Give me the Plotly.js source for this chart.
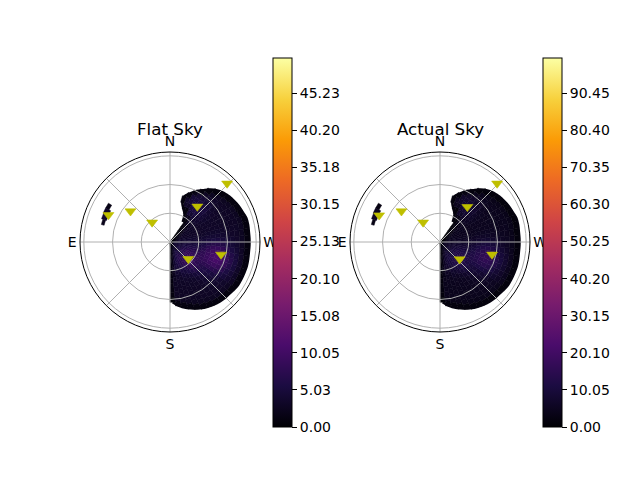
<!DOCTYPE html>
<html><head><meta charset="utf-8">
<script src="https://cdn.plot.ly/plotly-3.0.1.min.js"></script>
<style>html,body{margin:0;padding:0;background:#fff}</style>
</head><body><div id="chart" style="width:640px;height:480px"></div>
<script>
// ---- sky-brightness grid (azimuth bins, deg; radial cells of 5 units, aligned on the outer edge) ----
const binTheta = [182.5,187.5,192.5,197.5,202.5,207.5,212.5,217.5,222.5,227.5,232.5,237.5,242.5,247.5,252.5,257.5,262.5,267.5,272.5,277.5,282.5,287.5,292.5,297.5,302.5,307.5,312.5,317.5,322.5,327.5,332.5,337.5,342.5];
const binRIn  = [0,0,0,0,0,0,0,0,0,0,0,0,0,0,0,0,0,0,0,0,0,0,0,0,0,0,0,0,0,25,33,37,43];
const binROut = [63,67,70,72.5,75,77.5,79,80.5,81.5,82,83,84,84,84,84,83.5,83,83,83,83,83.5,83.5,82,81,79.5,78,76,73,69,64,60,55,50];
const flatVals = [
 [0.1,0.2,0.4,0.5,0.7,0.8,0.9,1.0,1.1,1.2,1.2,1.0,0.4],
 [0.2,0.6,1.1,1.7,2.2,2.5,2.5,2.7,2.9,3.0,3.0,2.8,1.2],
 [0.3,1.0,1.9,3.0,4.0,4.6,4.0,3.5,3.2,3.0,3.0,3.0,2.6,1.2],
 [0.4,1.5,2.9,4.6,5.5,5.2,4.5,3.8,3.3,3.1,3.0,3.0,3.0,2.6,1.1],
 [0.5,1.9,3.8,5.7,6.2,6.0,5.1,4.2,3.5,3.2,3.0,3.0,3.0,2.6,1.2],
 [0.6,2.3,4.8,6.2,6.9,6.8,5.9,4.8,3.8,3.3,3.1,3.0,3.0,3.0,2.6,1.1],
 [0.7,2.7,5.1,6.5,7.6,7.7,6.7,5.4,4.2,3.5,3.2,3.0,3.0,3.0,2.6,1.1],
 [0.8,3.1,5.3,6.9,8.2,8.4,7.4,5.9,4.6,3.8,3.4,3.2,3.1,3.0,2.6,1.1],
 [1.0,3.4,5.4,7.1,8.6,9.0,8.1,6.6,5.2,4.3,3.8,3.5,3.3,3.2,2.7,1.1],
 [1.0,3.8,5.4,7.2,8.8,9.3,8.4,7.1,5.9,5.1,4.6,4.1,3.7,3.4,2.8,1.1],
 [1.1,4.1,5.4,7.2,8.7,9.3,8.6,7.6,6.7,6.2,5.8,5.2,4.6,3.9,3.5,2.8,1.1],
 [1.2,4.0,5.3,7.0,8.5,9.0,8.6,7.9,7.6,7.7,7.4,6.8,5.8,4.8,3.9,3.0,1.1],
 [1.3,4.0,5.2,6.7,8.0,8.4,8.3,8.1,8.5,9.1,9.3,8.6,7.3,5.7,4.5,3.1,1.2],
 [1.3,4.0,5.0,6.3,7.3,7.7,7.8,8.1,9.0,10.1,10.6,10.0,8.5,6.6,5.0,3.2,1.2],
 [1.4,3.9,4.8,5.9,6.6,6.9,7.2,7.8,9.0,10.4,11.0,10.5,8.8,6.8,5.1,3.3,1.2],
 [1.4,3.8,4.6,5.4,5.9,6.2,6.4,7.1,8.5,9.8,10.3,9.8,8.3,6.4,4.9,3.2,1.2],
 [1.4,3.8,4.4,5.0,5.3,5.4,5.6,6.3,7.4,8.5,8.8,8.2,7.0,5.5,4.4,3.0,1.1],
 [1.4,3.7,4.1,4.6,4.7,4.7,4.9,5.4,6.2,6.8,7.0,6.4,5.5,4.6,3.8,2.8,1.1],
 [1.1,3.5,4.0,4.1,4.2,4.2,4.3,4.6,5.0,5.4,5.3,5.0,4.4,3.8,3.4,2.7,1.1],
 [1.0,3.1,3.8,3.8,3.9,3.8,3.9,4.0,4.3,4.4,4.2,4.0,3.6,3.4,3.2,2.6,1.0],
 [0.9,2.8,3.6,3.6,3.6,3.5,3.5,3.5,3.6,3.6,3.6,3.5,3.3,3.2,3.1,2.6,1.0],
 [0.8,2.4,3.5,3.4,3.3,3.3,3.3,3.3,3.4,3.3,3.3,3.2,3.1,3.0,3.0,2.6,1.0],
 [0.7,2.0,3.4,3.3,3.2,3.2,3.2,3.3,3.3,3.2,3.1,3.0,3.0,3.0,2.6,1.0],
 [0.6,1.7,3.1,3.1,3.1,3.1,3.2,3.3,3.3,3.3,3.2,3.1,3.0,3.0,2.6,1.0],
 [0.5,1.4,2.2,3.0,3.0,3.1,3.3,3.5,3.6,3.6,3.4,3.2,3.1,3.0,2.6,1.0],
 [0.4,1.0,1.7,2.4,3.1,3.2,3.5,3.9,4.2,4.2,3.9,3.5,3.2,3.0,2.6,1.0],
 [0.3,0.7,1.2,1.6,2.1,2.7,3.6,4.3,4.9,5.1,4.6,4.0,3.4,2.8,1.0],
 [0.1,0.4,0.6,0.9,1.4,2.6,3.8,4.6,5.5,5.8,5.3,4.4,3.6,2.7,1.0],
 [0.1,0.1,0.2,0.3,0.5,1.0,2.0,4.1,5.7,6.0,5.5,4.5,3.0,1.0],
 [0.5,2.5,4.6,5.4,5.6,5.2,4.3,1.2],
 [1.0,3.0,4.7,4.6,2.3],
 [1.0,3.3,3.6,1.2],
 [1.2]
];
const actualVals = [
 [0.2,0.3,0.6,0.8,1.1,1.2,1.4,1.5,1.7,1.8,1.8,1.5,0.6],
 [0.3,0.9,1.7,2.6,3.3,3.8,3.8,4.1,4.4,4.5,4.5,4.2,1.8],
 [0.5,1.5,2.9,4.5,6.0,6.9,6.0,5.3,4.8,4.5,4.5,4.5,3.9,1.8],
 [0.6,2.3,4.4,6.9,8.3,7.8,6.8,5.7,5.0,4.7,4.5,4.5,4.5,3.9,1.7],
 [0.8,2.9,5.7,8.6,9.3,9.0,7.7,6.3,5.3,4.8,4.5,4.5,4.5,3.9,1.8],
 [0.9,3.5,7.2,9.3,10.4,10.2,8.9,7.2,5.7,5.0,4.7,4.5,4.5,4.5,3.9,1.7],
 [1.1,4.1,7.7,9.8,11.4,11.6,10.1,8.1,6.3,5.3,4.8,4.5,4.5,4.5,3.9,1.7],
 [1.2,4.7,8.0,10.4,12.3,12.6,11.1,8.9,6.9,5.7,5.1,4.8,4.7,4.5,3.9,1.7],
 [1.5,5.1,8.1,10.7,12.9,13.5,12.2,9.9,7.8,6.5,5.7,5.3,5.0,4.8,4.1,1.7],
 [1.5,5.7,8.1,10.8,13.2,14.0,12.6,10.7,8.9,7.7,6.9,6.2,5.6,5.1,4.2,1.7],
 [1.7,6.2,8.1,10.8,13.1,14.0,12.9,11.4,10.1,9.3,8.7,7.8,6.9,5.9,5.3,4.2,1.7],
 [1.8,6.0,8.0,10.5,12.8,13.5,12.9,11.9,11.4,11.6,11.1,10.2,8.7,7.2,5.9,4.5,1.7],
 [2.0,6.0,7.8,10.1,12.0,12.6,12.5,12.2,12.8,13.7,14.0,12.9,11.0,8.6,6.8,4.7,1.8],
 [2.0,6.0,7.5,9.5,11.0,11.6,11.7,12.2,13.5,15.2,15.9,15.0,12.8,9.9,7.5,4.8,1.8],
 [2.1,5.9,7.2,8.9,9.9,10.4,10.8,11.7,13.5,15.6,16.5,15.8,13.2,10.2,7.7,5.0,1.8],
 [2.1,5.7,6.9,8.1,8.9,9.3,9.6,10.7,12.8,14.7,15.5,14.7,12.5,9.6,7.4,4.8,1.8],
 [2.1,5.7,6.6,7.5,8.0,8.1,8.4,9.5,11.1,12.8,13.2,12.3,10.5,8.3,6.6,4.5,1.7],
 [2.1,5.6,6.2,6.9,7.1,7.1,7.4,8.1,9.3,10.2,10.5,9.6,8.3,6.9,5.7,4.2,1.7],
 [1.7,5.3,6.0,6.2,6.3,6.3,6.5,6.9,7.5,8.1,8.0,7.5,6.6,5.7,5.1,4.1,1.7],
 [1.5,4.7,5.7,5.7,5.9,5.7,5.9,6.0,6.5,6.6,6.3,6.0,5.4,5.1,4.8,3.9,1.5],
 [1.4,4.2,5.4,5.4,5.4,5.3,5.3,5.3,5.4,5.4,5.4,5.3,5.0,4.8,4.7,3.9,1.5],
 [1.2,3.6,5.3,5.1,5.0,5.0,5.0,5.0,5.1,5.0,5.0,4.8,4.7,4.5,4.5,3.9,1.5],
 [1.1,3.0,5.1,5.0,4.8,4.8,4.8,5.0,5.0,4.8,4.7,4.5,4.5,4.5,3.9,1.5],
 [0.9,2.6,4.7,4.7,4.7,4.7,4.8,5.0,5.0,5.0,4.8,4.7,4.5,4.5,3.9,1.5],
 [0.8,2.1,3.3,4.5,4.5,4.7,5.0,5.3,5.4,5.4,5.1,4.8,4.7,4.5,3.9,1.5],
 [0.6,1.5,2.6,3.6,4.7,4.8,5.3,5.9,6.3,6.3,5.9,5.3,4.8,4.5,3.9,1.5],
 [0.5,1.1,1.8,2.4,3.2,4.1,5.4,6.5,7.4,7.7,6.9,6.0,5.1,4.2,1.5],
 [0.2,0.6,0.9,1.4,2.1,3.9,5.7,6.9,8.3,8.7,8.0,6.6,5.4,4.1,1.5],
 [0.2,0.2,0.3,0.5,0.8,1.5,3.0,6.2,8.6,9.0,8.3,6.8,4.5,1.5],
 [0.8,3.8,6.9,8.1,8.4,7.8,6.5,1.8],
 [1.5,4.5,7.1,6.9,3.5],
 [1.5,5.0,5.4,1.8],
 [1.8]
];
// small patch near the eastern horizon
const eastTheta = [60, 64.5, 69, 73.5];
const eastRIn   = [72, 70, 70, 71];
const eastROut  = [76, 76, 75.5, 74];
const eastFlat   = [[1.5],[3.5],[4.0],[2.0]];
const eastActual = [[2.3],[5.3],[6.0],[3.0]];

// ---- source markers ----
const flatMarkTheta = [66.3, 52.1, 42.4, 322.4, 315.7, 227.2, 256.2];
const flatMarkR     = [70.2, 52.3, 27.7, 46.8, 85.4, 26.0, 54.9];
const actualMarkTheta = [66.3, 51.4, 40.8, 322.1, 315.7, 228.7, 256.5];
const actualMarkR     = [69.4, 51.5, 27.0, 46.5, 85.4, 27.3, 55.9];

// ---- axes / colorbar ticks ----
const compassVals = [0,45,90,135,180,225,270,315];
const compassText = ['N','','E','','S','','W',''];
const ringVals = [30,60,90];
const rMax = 94;
const flatMax = 50, actualMax = 100;
const flatTickVals = [0,5.025,10.05,15.075,20.1,25.125,30.15,35.175,40.2,45.225];
const flatTickText = ['0.00','5.03','10.05','15.08','20.10','25.13','30.15','35.18','40.20','45.23'];
const actualTickVals = [0,10.05,20.1,30.15,40.2,50.25,60.3,70.35,80.4,90.45];
const actualTickText = ['0.00','10.05','20.10','30.15','40.20','50.25','60.30','70.35','80.40','90.45'];
const titles = ['Flat Sky','Actual Sky'];

const inferno = [[0,'#000004'],[0.1111,'#1b0c41'],[0.2222,'#4a0c6b'],[0.3333,'#781c6d'],[0.4444,'#a52c60'],[0.5556,'#cf4446'],[0.6667,'#ed6925'],[0.7778,'#fb9b06'],[0.8889,'#f7d13d'],[1,'#fcffa4']];
const RSTEP = 5, BINW = 5, EASTW = 4.5;

// cells are laid from the outer edge inwards; the innermost one ends at the inner edge
function cells(thetas, rin, rout, vals, width, acc) {
  thetas.forEach((th, k) => {
    const row = vals[k], n = row.length;
    for (let i = 0; i < n; i++) {
      const hi = rout[k] - RSTEP * (n - 1 - i);
      const lo = (i === 0) ? rin[k] : hi - RSTEP;
      acc.t.push(th); acc.b.push(lo); acc.r.push(hi - lo); acc.c.push(row[i]); acc.w.push(width);
    }
  });
  return acc;
}
function grid(vals, east) {
  const acc = {t:[], b:[], r:[], c:[], w:[]};
  cells(binTheta, binRIn, binROut, vals, BINW, acc);
  cells(eastTheta, eastRIn, eastROut, east, EASTW, acc);
  return acc;
}
// dark rim of the visible-sky region, following the same edge arrays
const rimTheta = binTheta.concat(binTheta.filter((t, k) => binRIn[k] > 0).reverse());
const rimR = binROut.concat(binRIn.filter(r => r > 0).reverse());

const FONT = 'DejaVu Sans';
function heatTrace(sub, g, cmax, cbx, tv, tt) {
  return {type:'barpolar', subplot:sub, theta:g.t, r:g.r, base:g.b, width:g.w, hoverinfo:'skip',
    marker:{color:g.c, colorscale:inferno, cmin:0, cmax:cmax, showscale:true,
      line:{width:0.5, color:g.c, colorscale:inferno, cmin:0, cmax:cmax},
      colorbar:{x:cbx, xanchor:'left', xpad:0, y:1-242.5/480, yanchor:'middle', ypad:0,
        len:369, lenmode:'pixels', thickness:19, thicknessmode:'pixels',
        outlinewidth:1, outlinecolor:'#000', tickmode:'array', tickvals:tv, ticktext:tt,
        ticks:'outside', ticklen:5, tickwidth:1, tickcolor:'#000',
        tickfont:{family:FONT, size:14, color:'#000'}}}};
}
function rimTrace(sub) {
  return {type:'scatterpolar', subplot:sub, mode:'lines', theta:rimTheta, r:rimR, hoverinfo:'skip',
    line:{color:'#05030e', width:2.6, shape:'spline', smoothing:0.9}};
}
function markTrace(sub, th, r) {
  return {type:'scatterpolar', subplot:sub, mode:'markers', theta:th, r:r, hoverinfo:'skip',
    marker:{symbol:'triangle-down', size:9.5, color:'#bfbf00', line:{width:0.6, color:'#bfbf00'}}};
}
const data = [
  heatTrace('polar', grid(flatVals, eastFlat), flatMax, 273/640, flatTickVals, flatTickText),
  rimTrace('polar'),
  markTrace('polar2', flatMarkTheta, flatMarkR),
  heatTrace('polar3', grid(actualVals, eastActual), actualMax, 543/640, actualTickVals, actualTickText),
  rimTrace('polar3'),
  markTrace('polar4', actualMarkTheta, actualMarkR)
];
function heatPolar(dx) {
  return {domain:{x:dx, y:[148/480, 328/480]}, bgcolor:'#fff', bargap:0,
    radialaxis:{range:[0,rMax], showgrid:false, showticklabels:false, showline:false, ticks:''},
    angularaxis:{rotation:90, direction:'counterclockwise', showgrid:false, showticklabels:false, showline:false, ticks:''}};
}
function gridPolar(dx) {
  return {domain:{x:dx, y:[148/480, 328/480]}, bgcolor:'rgba(0,0,0,0)',
    radialaxis:{range:[0,rMax], tickmode:'array', tickvals:ringVals, showticklabels:false, showline:false, ticks:'',
      gridcolor:'#b0b0b0', gridwidth:1},
    angularaxis:{rotation:90, direction:'counterclockwise', tickmode:'array', tickvals:compassVals, ticktext:compassText,
      ticks:'', gridcolor:'#b0b0b0', gridwidth:1, showline:true, linecolor:'#000', linewidth:1,
      tickfont:{family:FONT, size:14, color:'#000'}}};
}
const fx = [80/640, 260/640], ax = [350/640, 530/640];
const layout = {
  width:640, height:480, margin:{l:0,r:0,t:0,b:0}, paper_bgcolor:'#fff', showlegend:false,
  font:{family:FONT, color:'#000'},
  polar:heatPolar(fx), polar2:gridPolar(fx), polar3:heatPolar(ax), polar4:gridPolar(ax),
  annotations:[
    {text:titles[0], x:170/640, y:1-129/480, xref:'paper', yref:'paper', showarrow:false, xanchor:'center', yanchor:'middle', font:{family:FONT, size:16.7, color:'#000'}},
    {text:titles[1], x:440/640, y:1-129/480, xref:'paper', yref:'paper', showarrow:false, xanchor:'center', yanchor:'middle', font:{family:FONT, size:16.7, color:'#000'}}
  ]
};
Plotly.newPlot('chart', data, layout, {staticPlot:true, displayModeBar:false});
</script></body></html>
